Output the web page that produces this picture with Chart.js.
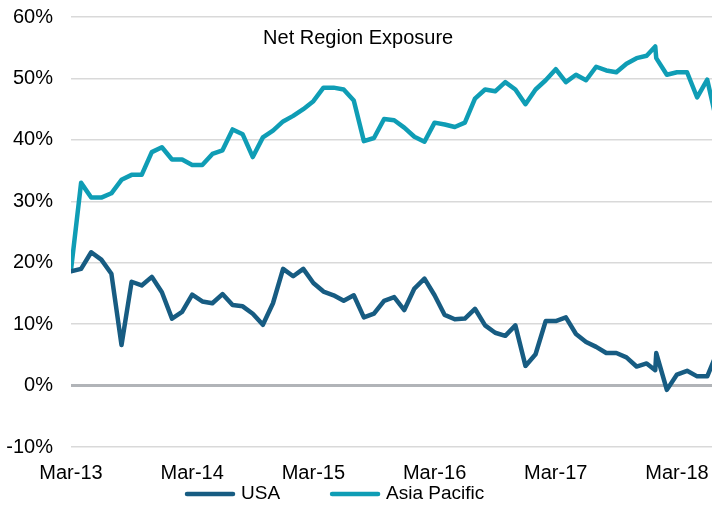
<!DOCTYPE html>
<html>
<head>
<meta charset="utf-8">
<script src="https://cdn.jsdelivr.net/npm/chart.js@4/dist/chart.umd.min.js"></script>
<style>
  html, body { margin: 0; padding: 0; background: #fff; }
  #wrap { width: 712px; height: 508px; position: relative; }
</style>
</head>
<body>
<div id="wrap"><canvas id="chart"></canvas></div>
<script>
// months since Mar-13 (two readings fall inside the same month near Jan-18)
const months = [0,1,2,3,4,5,6,7,8,9,10,11,12,13,14,15,16,17,18,19,20,21,22,23,24,25,26,27,28,29,
  30,31,32,33,34,35,36,37,38,39,40,41,42,43,44,45,46,47,48,49,50,51,52,53,54,55,56,57,57.85,57.95,
  59,60,61,62,63,64];

const usa = [18.6,19.0,21.7,20.5,18.2,6.6,16.9,16.3,17.7,15.2,10.9,12.0,14.8,13.7,13.4,14.9,13.1,12.9,11.7,9.9,
  13.4,19.0,17.8,19.0,16.7,15.3,14.7,13.8,14.7,11.1,11.7,13.8,14.4,12.3,15.8,17.4,14.7,11.5,10.8,10.9,
  12.5,9.8,8.6,8.1,9.8,3.2,5.1,10.5,10.5,11.1,8.4,7.1,6.3,5.3,5.3,4.6,3.1,3.6,2.5,5.3,
  -0.7,1.8,2.4,1.5,1.5,5.5];

const asiaPacific = [18.8,33.0,30.6,30.6,31.3,33.5,34.3,34.3,38.0,38.8,36.8,36.8,35.9,35.9,37.7,38.3,41.7,40.9,37.2,40.4,
  41.5,43.0,43.9,45.0,46.3,48.5,48.5,48.2,46.4,39.8,40.3,43.4,43.2,42.0,40.5,39.7,42.8,42.5,42.1,42.8,
  46.7,48.2,47.9,49.4,48.2,45.8,48.2,49.7,51.5,49.4,50.6,49.7,51.9,51.3,51.0,52.4,53.3,53.7,55.2,53.3,
  50.6,51.0,51.0,46.9,49.8,42.5];

const tickMonths = [0,12,24,36,48,60];
const tickLabels = ['Mar-13','Mar-14','Mar-15','Mar-16','Mar-17','Mar-18'];

const FONT = '"Liberation Sans", Arial, sans-serif';

function pairs(vals) {
  return vals.map((v, i) => ({x: months[i], y: v}));
}

// title sits inside the plot, legend is a pair of line samples under the axis
const titleAndLegend = {
  id: 'titleAndLegend',
  afterDraw(chart) {
    const ctx = chart.ctx;
    const area = chart.chartArea;
    ctx.save();
    ctx.fillStyle = '#000';
    ctx.font = '20px ' + FONT;
    ctx.textAlign = 'center';
    ctx.textBaseline = 'middle';
    ctx.fillText('Net Region Exposure', area.left + (area.right - area.left) * 0.448, area.top + 21);

    ctx.font = '19px ' + FONT;
    ctx.textAlign = 'left';
    const lineLen = 50, textGap = 6, itemGap = 50;
    const ds = chart.data.datasets;
    const widths = ds.map(d => ctx.measureText(d.label).width);
    const total = widths.reduce((s, w) => s + lineLen + textGap + w, 0) + itemGap * (ds.length - 1);
    let x = chart.width * 0.47 - total / 2;
    const y = chart.height - 14;
    ds.forEach((d, i) => {
      ctx.strokeStyle = d.borderColor;
      ctx.lineWidth = d.borderWidth;
      ctx.lineCap = 'round';
      ctx.beginPath();
      ctx.moveTo(x + 2, y);
      ctx.lineTo(x + lineLen - 2, y);
      ctx.stroke();
      ctx.fillText(d.label, x + lineLen + textGap, y);
      x += lineLen + textGap + widths[i] + itemGap;
    });
    ctx.restore();
  }
};

new Chart(document.getElementById('chart'), {
  type: 'line',
  data: {
    datasets: [
      {
        label: 'USA',
        data: pairs(usa),
        borderColor: '#175c82',
        borderWidth: 4.5,
        pointRadius: 0,
        tension: 0,
        borderJoinStyle: 'round',
        borderCapStyle: 'round'
      },
      {
        label: 'Asia Pacific',
        data: pairs(asiaPacific),
        borderColor: '#0f9db5',
        borderWidth: 4.5,
        pointRadius: 0,
        tension: 0,
        borderJoinStyle: 'round',
        borderCapStyle: 'round'
      }
    ]
  },
  options: {
    responsive: true,
    maintainAspectRatio: false,
    animation: false,
    layout: { padding: { left: 6, right: 0, top: 17, bottom: 9 } },
    plugins: {
      legend: { display: false },
      tooltip: { enabled: false }
    },
    scales: {
      x: {
        type: 'linear',
        min: 0,
        max: 63.47,
        grid: { display: false, drawTicks: false },
        border: { display: false },
        afterBuildTicks: s => { s.ticks = tickMonths.map(v => ({value: v})); },
        afterFit: s => { s.paddingLeft = 0; s.paddingRight = 0; },
        ticks: {
          autoSkip: false,
          maxRotation: 0,
          padding: 14,
          color: '#000',
          font: { family: FONT, size: 20 },
          callback: v => tickLabels[tickMonths.indexOf(v)]
        }
      },
      y: {
        min: -10,
        max: 60,
        grid: {
          drawTicks: false,
          color: c => c.tick.value === 0 ? '#b1b4b8' : '#d9d9d9',
          lineWidth: c => c.tick.value === 0 ? 3 : 1.5
        },
        border: { display: false },
        afterFit: s => { s.width = 65; s.paddingTop = 0; s.paddingBottom = 0; },
        ticks: {
          stepSize: 10,
          padding: 18,
          color: '#000',
          font: { family: FONT, size: 20 },
          callback: v => v + '%'
        }
      }
    }
  },
  plugins: [titleAndLegend]
});
</script>
</body>
</html>
